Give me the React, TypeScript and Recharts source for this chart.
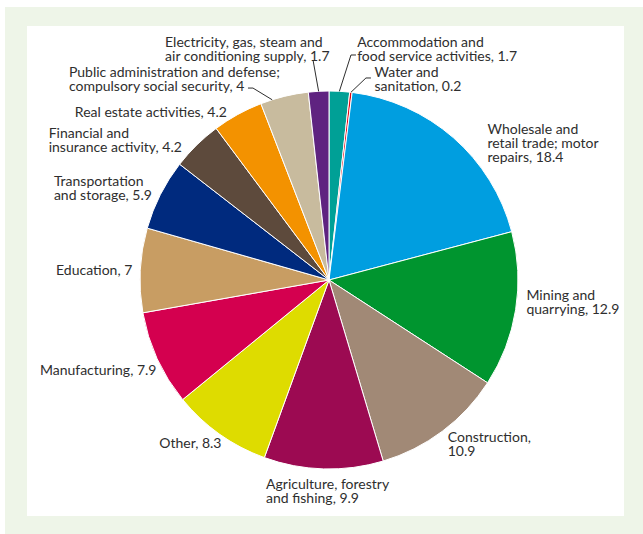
import React from 'react';
import { PieChart, Pie, Cell } from 'recharts';

// GDP share by sector, %
const sectors = [
	'Accommodation and\nfood service activities',
	'Water and\nsanitation',
	'Wholesale and\nretail trade; motor\nrepairs',
	'Mining and\nquarrying',
	'Construction',
	'Agriculture, forestry\nand fishing',
	'Other',
	'Manufacturing',
	'Education',
	'Transportation\nand storage',
	'Financial and\ninsurance activity',
	'Real estate activities',
	'Public administration and defense;\ncompulsory social security',
	'Electricity, gas, steam and\nair conditioning supply',
];

const shares = [1.7, 0.2, 18.4, 12.9, 10.9, 9.9, 8.3, 7.9, 7, 5.9, 4.2, 4.2, 4, 1.7];

const colors = [
	'#00a096',
	'#e30613',
	'#009ee0',
	'#00952f',
	'#a18976',
	'#9c0a52',
	'#dedc00',
	'#d4004f',
	'#c89d63',
	'#002a7e',
	'#5d4a3c',
	'#f39200',
	'#c8bb9e',
	'#5f2380',
];

const data = sectors.map((name, i) => ({ name, value: shares[i] }));

const FONT = 'Lato';
const FONT_SIZE = 14;
const LINE_H = 14;
const TEXT_COLOR = '#2e2e2e';
const RADIAN = Math.PI / 180;

type LabelLayout = {
	dx: number;
	dy: number;
	align: 'start' | 'end';
	valueBelow?: boolean;
	leaderShift?: number;
	leader?: number[][];
};

// hand placement of each label, nudged from a point just outside the slice
const layout: LabelLayout[] = [
	{ dx: 17, dy: -28, align: 'start', leader: [[11.6, -36.3], [16.6, -36.3]] },
	{ dx: 22, dy: 1, align: 'start', leader: [[15, -14.3], [20, -14.3]] },
	{ dx: 25, dy: 16, align: 'start' },
	{ dx: -3, dy: -10, align: 'start' },
	{ dx: -3, dy: 2, align: 'start', valueBelow: true },
	{ dx: -57, dy: 8, align: 'start' },
	{ dx: 10, dy: -2.5, align: 'end' },
	{ dx: 12, dy: 5.5, align: 'end' },
	{ dx: 6, dy: 0.5, align: 'end' },
	{ dx: 4, dy: 0, align: 'end' },
	{ dx: -5, dy: 5, align: 'end' },
	{ dx: -4, dy: 10, align: 'end' },
	{ dx: -1, dy: -4, align: 'end', leaderShift: 3.8, leader: [[-19.2, -11.7], [-24.2, -11.7]] },
	{ dx: 12, dy: -28, align: 'end', leader: [[-5.6, -31.3]] },
];

let ctx: CanvasRenderingContext2D | null = null;
const measure = (s: string) => {
	if (!ctx) ctx = document.createElement('canvas').getContext('2d');
	if (!ctx) return s.length * FONT_SIZE * 0.5;
	ctx.font = `${FONT_SIZE}px ${FONT}`;
	return ctx.measureText(s).width;
};

const polar = (cx: number, cy: number, r: number, angle: number) => ({
	x: cx + r * Math.cos(-angle * RADIAN),
	y: cy + r * Math.sin(-angle * RADIAN),
});

const renderLabel = (props: any) => {
	const { cx, cy, midAngle, outerRadius, index, name, value } = props;
	const cfg = layout[index];
	const text = cfg.valueBelow ? `${name},\n${value}` : `${name}, ${value}`;
	const lines = text.split('\n');
	const p = polar(cx, cy, outerRadius + 14, midAngle);
	const ax = p.x + cfg.dx;
	const ay = p.y + cfg.dy;
	const width = Math.max(...lines.map(measure));
	const left = cfg.align === 'start' ? ax : ax - width;
	const top = ay - ((lines.length - 1) * LINE_H) / 2;

	let leader = null;
	if (cfg.leader) {
		const e = polar(cx, cy, outerRadius, midAngle + (cfg.leaderShift || 0));
		const pts = [[e.x, e.y], ...cfg.leader.map(([x, y]) => [e.x + x, e.y + y])];
		leader = (
			<polyline
				points={pts.map((q) => q.join(',')).join(' ')}
				fill="none"
				stroke={TEXT_COLOR}
				strokeWidth={1}
			/>
		);
	}

	return (
		<g key={`label-${index}`}>
			{leader}
			<text
				x={left}
				y={top + 5}
				fill={TEXT_COLOR}
				fontFamily={FONT}
				fontSize={FONT_SIZE}
			>
				{lines.map((line, i) => (
					<tspan key={i} x={left} dy={i === 0 ? 0 : LINE_H}>
						{line}
					</tspan>
				))}
			</text>
		</g>
	);
};

export default function App() {
	return (
		<div
			style={{
				position: 'absolute',
				left: 0,
				top: 0,
				width: 643,
				height: 534,
				background: '#ffffff',
			}}
		>
			<div
				style={{
					position: 'absolute',
					left: 5,
					top: 7,
					width: 638,
					height: 527,
					background: '#eef5e8',
				}}
			/>
			<div
				style={{
					position: 'absolute',
					left: 27,
					top: 26,
					width: 597,
					height: 490,
					background: '#ffffff',
				}}
			>
				<PieChart
					width={597}
					height={490}
					margin={{ top: 0, right: 0, bottom: 0, left: 0 }}
				>
					<Pie
						data={data}
						dataKey="value"
						nameKey="name"
						cx={302}
						cy={254}
						outerRadius={189}
						startAngle={90}
						endAngle={-270}
						stroke="#ffffff"
						strokeWidth={1}
						label={renderLabel}
						labelLine={false}
						isAnimationActive={false}
					>
						{data.map((d, i) => (
							<Cell key={d.name} fill={colors[i]} />
						))}
					</Pie>
				</PieChart>
			</div>
		</div>
	);
}
